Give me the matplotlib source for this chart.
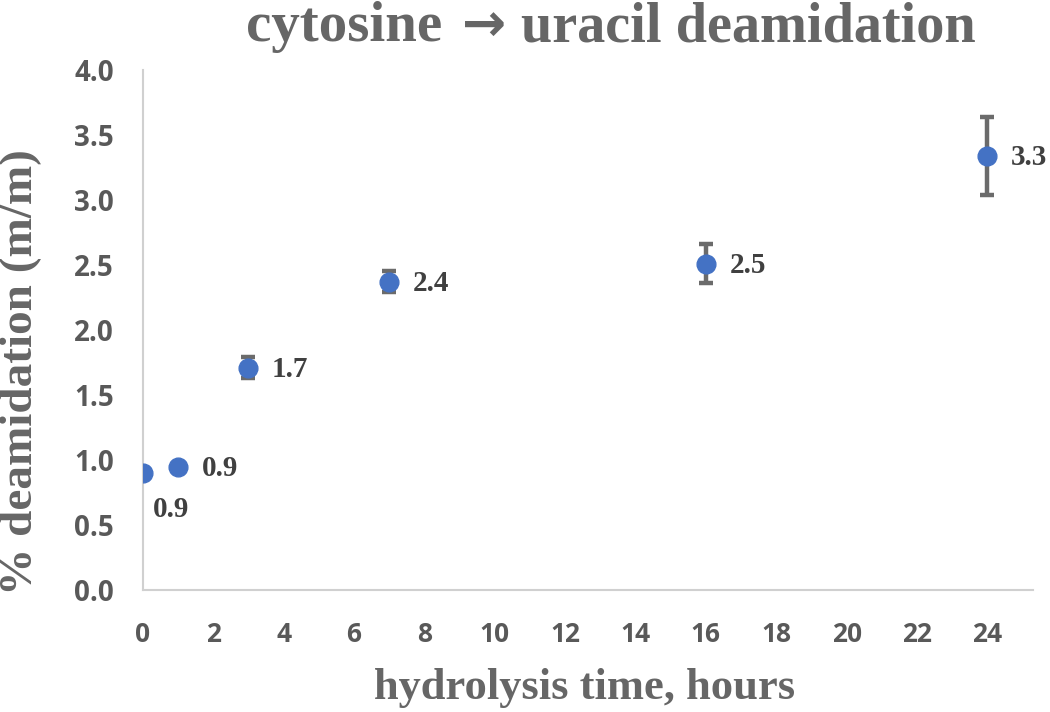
import matplotlib
matplotlib.use("Agg")
import matplotlib.pyplot as plt

hours = [0, 1, 3, 7, 16, 24]
deamidation = [0.90, 0.95, 1.71, 2.37, 2.51, 3.34]
errors = [0.0, 0.0, 0.08, 0.08, 0.15, 0.30]
labels = ["0.9", "0.9", "1.7", "2.4", "2.5", "3.3"]
xticks = [0, 2, 4, 6, 8, 10, 12, 14, 16, 18, 20, 22, 24]
yticks = [0.0, 0.5, 1.0, 1.5, 2.0, 2.5, 3.0, 3.5, 4.0]

W, H = 1050, 712
fig = plt.figure(figsize=(10.5, 7.12), dpi=100)
ax = fig.add_axes([0.136, 0.171, 0.848, 0.731])

ax.errorbar(hours, deamidation, yerr=errors, fmt='none', ecolor='#6b6b6b',
            elinewidth=3.2, capsize=4.8, capthick=3.2, zorder=2)
ax.plot(hours, deamidation, 'o', color='#4472C4', markersize=13.5, zorder=3)

serif = ['Liberation Serif', 'DejaVu Serif']
for i, (x, y, t) in enumerate(zip(hours, deamidation, labels)):
    if i == 0:
        off = (7, -26)
    else:
        off = (17, -1)
    ax.annotate(t, (x, y), xytext=off, textcoords='offset points',
                ha='left', va='center', fontsize=21, fontweight='bold',
                family=serif, color='#404040')

ax.set_xlim(0, 25.3)
ax.set_ylim(0, 4.0)
ax.set_xticks(xticks)
ax.set_yticks(yticks)
ax.set_xticklabels([str(v) for v in xticks])
ax.set_yticklabels([f"{v:.1f}" for v in yticks])
for lab in ax.get_xticklabels():
    lab.set_family('Open Sans')
    lab.set_fontweight('bold')
    lab.set_fontsize(19)
    lab.set_color('#595959')
for lab in ax.get_yticklabels():
    lab.set_family('Open Sans')
    lab.set_fontweight('bold')
    lab.set_fontsize(20)
    lab.set_color('#595959')
ax.tick_params(axis='both', length=0)
ax.tick_params(axis='y', pad=21)
ax.tick_params(axis='x', pad=22)

for s in ['top', 'right']:
    ax.spines[s].set_visible(False)
for s in ['left', 'bottom']:
    ax.spines[s].set_color('#d0d0d0')
    ax.spines[s].set_linewidth(1.5)

fig.text(585 / W, 1 - 688 / H, 'hydrolysis time, hours', ha='center', va='center',
         fontsize=32, fontweight='bold', family=serif, color='#666666')
fig.text(21 / W, 1 - 372 / H, '% deamidation (m/m)', ha='center', va='center',
         rotation=90, fontsize=34, fontweight='bold', family=serif, color='#666666')

# title in three pieces so the arrow can use a heavier glyph
base = 1 - 41 / H
fig.text(442 / W, base, 'cytosine', ha='right', va='baseline',
         fontsize=41, fontweight='bold', family=serif, color='#666666')
fig.text(484 / W, base, '\u2192', ha='center', va='baseline',
         fontsize=38, fontweight='bold', family=['DejaVu Sans'], color='#666666')
fig.text(521 / W, base, 'uracil deamidation', ha='left', va='baseline',
         fontsize=40.5, fontweight='bold', family=serif, color='#666666')

fig.savefig('out.png', dpi=100)
